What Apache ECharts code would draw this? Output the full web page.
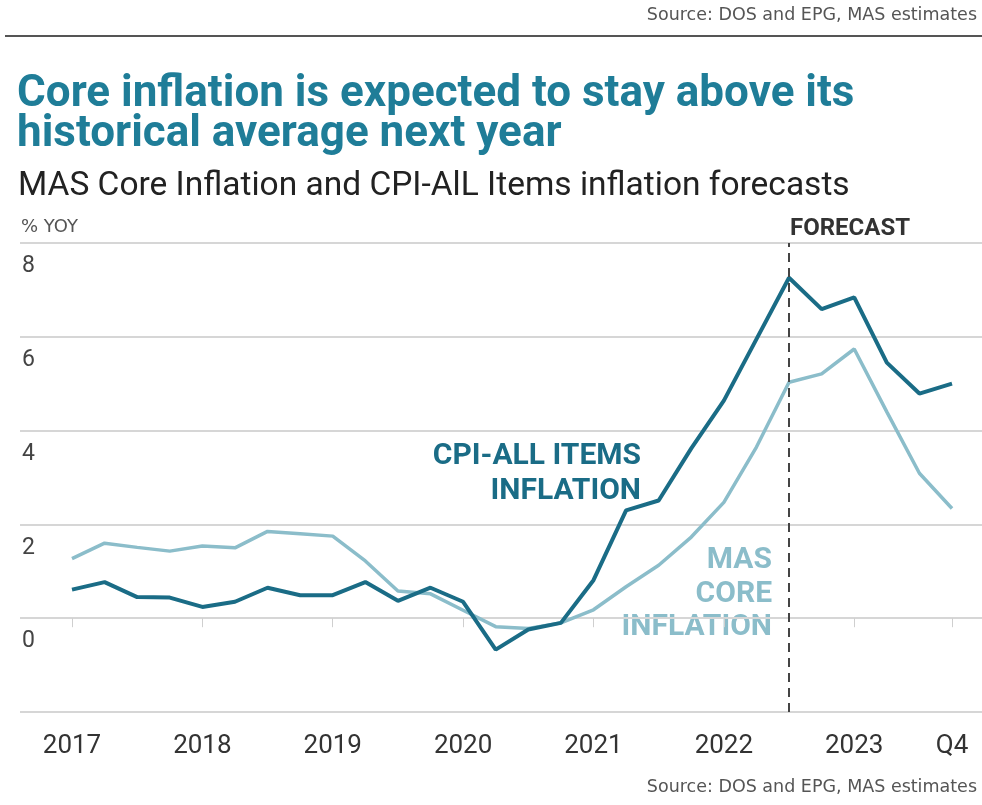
<!DOCTYPE html>
<html>
<head>
<meta charset="utf-8">
<script src="https://cdn.jsdelivr.net/npm/echarts@6/dist/echarts.min.js"></script>
<style>
html,body{margin:0;padding:0;background:#fff;}
#chart{width:982px;height:805px;}
</style>
</head>
<body>
<div id="chart"></div>
<script>
const categories = [
  '2017 Q1','2017 Q2','2017 Q3','2017 Q4',
  '2018 Q1','2018 Q2','2018 Q3','2018 Q4',
  '2019 Q1','2019 Q2','2019 Q3','2019 Q4',
  '2020 Q1','2020 Q2','2020 Q3','2020 Q4',
  '2021 Q1','2021 Q2','2021 Q3','2021 Q4',
  '2022 Q1','2022 Q2','2022 Q3','2022 Q4',
  '2023 Q1','2023 Q2','2023 Q3','2023 Q4'
];
const cpiAllItems = [
  0.61, 0.77, 0.45, 0.44,
  0.24, 0.35, 0.65, 0.49,
  0.49, 0.77, 0.37, 0.65,
  0.35, -0.67, -0.24, -0.10,
  0.81, 2.30, 2.51, 3.62,
  4.64, 5.95, 7.26, 6.59,
  6.84, 5.45, 4.79, 5.00
];
const masCore = [
  1.27, 1.60, 1.51, 1.43,
  1.54, 1.50, 1.85, 1.80,
  1.75, 1.22, 0.58, 0.52,
  0.17, -0.18, -0.22, -0.10,
  0.18, 0.67, 1.13, 1.73,
  2.47, 3.65, 5.03, 5.21,
  5.74, 4.40, 3.09, 2.34
];
const yTicks = [-2, 0, 2, 4, 6, 8];
const forecastStart = '2022 Q3';
const lastLabel = 'Q4';

const cpiColor = '#1a6c86';
const coreColor = '#8bbdca';
const titleColor = '#1f7d98';

function showTick(index) {
  return index % 4 === 0 || index === categories.length - 1;
}

function txt(pos, text, style) {
  return Object.assign({ type: 'text', style: Object.assign({ text: text, fontFamily: 'Roboto' }, style) }, pos);
}

const chart = echarts.init(document.getElementById('chart'));
const option = {
  backgroundColor: '#fff',
  animation: false,
  textStyle: { fontFamily: 'Roboto, "Noto Sans", sans-serif' },
  grid: [
    { left: 20, right: 0, top: 243, bottom: 93 },
    { left: 72, right: 30, top: 243, bottom: 93 }
  ],
  xAxis: [
    { gridIndex: 0, type: 'value', min: 0, max: 1, show: false },
    {
      gridIndex: 1, type: 'category', data: categories, boundaryGap: false,
      axisLine: { show: false },
      axisTick: { show: true, interval: showTick, length: 9, lineStyle: { color: '#cfcfcf', width: 1 } },
      axisLabel: {
        interval: showTick, margin: 21, fontSize: 26, color: '#333',
        formatter: function (v, i) {
          if (i === categories.length - 1) return lastLabel;
          return v.split(' ')[0];
        }
      },
      splitLine: { show: false }
    }
  ],
  yAxis: [
    {
      gridIndex: 0, type: 'value', min: yTicks[0], max: yTicks[yTicks.length - 1], interval: 2,
      axisLine: { show: false }, axisTick: { show: false },
      axisLabel: {
        inside: true, margin: 2, fontSize: 23, color: '#444', verticalAlign: 'top',
        padding: [12, 0, 0, 0],
        formatter: function (v) { return v === yTicks[0] ? '' : String(v); }
      },
      splitLine: { lineStyle: { color: '#d6d6d6', width: 2 } }
    },
    {
      gridIndex: 1, type: 'value', min: yTicks[0], max: yTicks[yTicks.length - 1], interval: 2,
      show: false, splitLine: { show: false }
    }
  ],
  series: [
    {
      name: 'MAS Core Inflation', type: 'line', xAxisIndex: 1, yAxisIndex: 1,
      data: masCore, symbol: 'none', lineStyle: { color: coreColor, width: 3.5 },
      z: 2
    },
    {
      name: 'CPI-All Items Inflation', type: 'line', xAxisIndex: 1, yAxisIndex: 1,
      data: cpiAllItems, symbol: 'none', lineStyle: { color: cpiColor, width: 4 },
      z: 3,
      markLine: {
        silent: true, symbol: 'none', animation: false,
        label: { show: false },
        lineStyle: { color: '#444', width: 2, type: [9, 6] },
        data: [{ xAxis: forecastStart }]
      }
    }
  ],
  graphic: [
    { type: 'rect', left: 5, top: 35, shape: { width: 977, height: 2 }, style: { fill: '#555' } },
    txt({ right: 5, top: 6 }, 'Source: DOS and EPG, MAS estimates', { fontSize: 17.5, fill: '#555', fontFamily: 'DejaVu Sans' }),
    txt({ right: 5, top: 778 }, 'Source: DOS and EPG, MAS estimates', { fontSize: 17.5, fill: '#555', fontFamily: 'DejaVu Sans' }),
    txt({ left: 17, top: 73 }, 'Core inflation is expected to stay above its', { fontSize: 44, fontWeight: 'bold', fill: titleColor }),
    txt({ left: 17, top: 113 }, 'historical average next year', { fontSize: 44, fontWeight: 'bold', fill: titleColor }),
    txt({ left: 18, top: 170 }, 'MAS Core Inflation and CPI-AlL Items inflation forecasts', { fontSize: 33.5, fill: '#222' }),
    txt({ left: 21, top: 218 }, '% YOY', { fontSize: 18, fill: '#555', fontFamily: 'DejaVu Sans' }),
    txt({ left: 790, top: 217 }, 'FORECAST', { fontSize: 24, fontWeight: 'bold', fill: '#333' }),
    txt({ right: 341, top: 441 }, 'CPI-ALL ITEMS', { fontSize: 30, fontWeight: 'bold', fill: cpiColor }),
    txt({ right: 341, top: 476 }, 'INFLATION', { fontSize: 30, fontWeight: 'bold', fill: cpiColor }),
    txt({ right: 210, top: 545 }, 'MAS', { fontSize: 30, fontWeight: 'bold', fill: coreColor }),
    txt({ right: 210, top: 579 }, 'CORE', { fontSize: 30, fontWeight: 'bold', fill: coreColor }),
    txt({ right: 210, top: 612 }, 'INFLATION', { fontSize: 30, fontWeight: 'bold', fill: coreColor })
  ]
};
chart.setOption(option);
</script>
</body>
</html>
